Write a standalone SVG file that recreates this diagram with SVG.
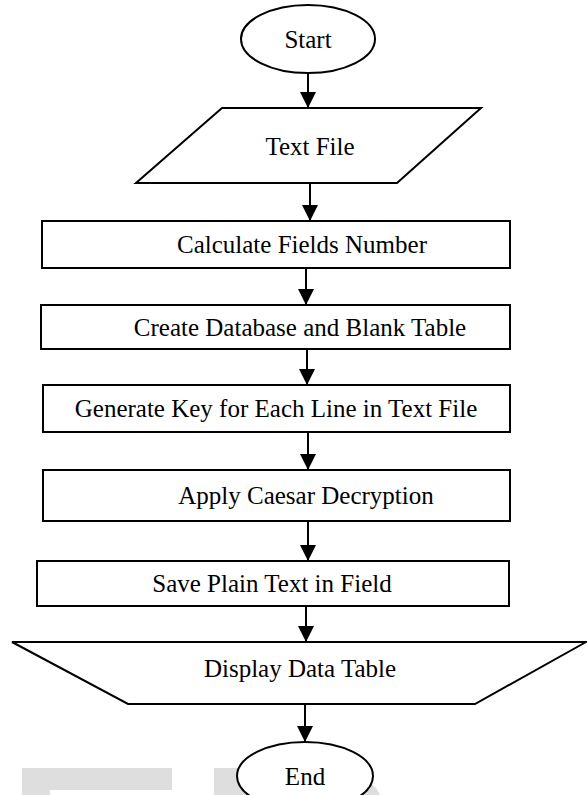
<svg xmlns="http://www.w3.org/2000/svg" width="587" height="795" viewBox="0 0 587 795">
  <defs>
    <marker id="arrow" viewBox="0 0 16 16" refX="16" refY="8" markerWidth="16" markerHeight="16" markerUnits="userSpaceOnUse" orient="auto">
      <path d="M0,0 L16,8 L0,16 z" fill="#000"/>
    </marker>
    <style>
      .shape { fill: #fff; stroke: #000; stroke-width: 2; }
      .label { font-family: "Liberation Serif", "Times New Roman", serif; font-size: 25px; fill: #000; text-anchor: middle; }
      .conn { stroke: #000; stroke-width: 2; fill: none; marker-end: url(#arrow); }
      .mark { fill: #dedede; }
    </style>
  </defs>
  <rect width="587" height="795" fill="#fff"/>

  <!-- faint background lettering at the page foot -->
  <g id="watermark">
    <path class="mark" d="M22,768 H172 V790 H50 V795 H22 Z"/>
    <path class="mark" d="M214,768 H300 C345,768 374,778 380,795 H214 Z"/>
  </g>

  <g id="connectors">
    <line class="conn" x1="308" y1="73" x2="308" y2="108"/>
    <line class="conn" x1="310" y1="183" x2="310" y2="221"/>
    <line class="conn" x1="306" y1="268" x2="306" y2="305"/>
    <line class="conn" x1="307" y1="349" x2="307" y2="385"/>
    <line class="conn" x1="308" y1="432" x2="308" y2="470"/>
    <line class="conn" x1="308" y1="521" x2="308" y2="561"/>
    <line class="conn" x1="306" y1="606" x2="306" y2="642"/>
    <line class="conn" x1="305" y1="704" x2="305" y2="742"/>
  </g>

  <g id="start">
    <ellipse class="shape" cx="308" cy="39" rx="67" ry="34"/>
    <text class="label" x="308" y="48">Start</text>
  </g>

  <g id="text-file">
    <polygon class="shape" points="222,108 481,108 397,183 136,183"/>
    <text class="label" x="310" y="155">Text File</text>
  </g>

  <g id="calc-fields">
    <rect class="shape" x="42" y="221" width="468" height="47"/>
    <text class="label" x="302" y="253">Calculate Fields Number</text>
  </g>

  <g id="create-db">
    <rect class="shape" x="41" y="305" width="469" height="44"/>
    <text class="label" x="300" y="336">Create Database and Blank Table</text>
  </g>

  <g id="gen-key">
    <rect class="shape" x="43" y="385" width="467" height="47"/>
    <text class="label" x="276" y="417">Generate Key for Each Line in Text File</text>
  </g>

  <g id="caesar">
    <rect class="shape" x="43" y="470" width="467" height="51"/>
    <text class="label" x="306" y="504">Apply Caesar Decryption</text>
  </g>

  <g id="save-plain">
    <rect class="shape" x="37" y="561" width="472" height="45"/>
    <text class="label" x="272" y="592">Save Plain Text in Field</text>
  </g>

  <g id="display-table">
    <polygon class="shape" points="12,642 586,642 475,704 128,704"/>
    <text class="label" x="300" y="677">Display Data Table</text>
  </g>

  <g id="end">
    <ellipse class="shape" cx="305" cy="776" rx="68" ry="34"/>
    <text class="label" x="305" y="785">End</text>
  </g>
</svg>
